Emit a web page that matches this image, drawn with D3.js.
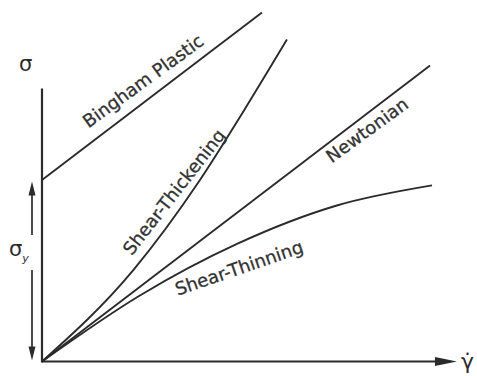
<!DOCTYPE html>
<html>
<head>
<meta charset="utf-8">
<script src="https://cdn.jsdelivr.net/npm/d3@7/dist/d3.min.js"></script>
<style>
  body { margin: 0; background: #fff; }
  svg { display: block; }
</style>
</head>
<body>
<svg id="chart" width="477" height="376"></svg>
<script>
// flow curves: x = shear rate, y = shear stress (arbitrary units)
const binghamPts    = [[0, 6.05], [5.64, 11.63]];
const thickeningPts = [[0, 0], [2.33, 3.03], [4.05, 6.05], [5.18, 8.37], [6.28, 10.73]];
const newtonianPts  = [[0, 0], [9.95, 9.87]];
const thinningPts   = [[0, 0], [2.51, 2.2], [5.0, 3.92], [7.56, 5.2], [10, 5.87]];
const curveNames    = ['Bingham Plastic', 'Shear-Thickening', 'Newtonian', 'Shear-Thinning'];
const yieldStress   = binghamPts[0][1];
const axisEnds      = [10.64, 9.1]; // x arrow tip, y axis top

const ink = '#2b2b2b';
const font = '"DejaVu Sans", sans-serif';

const svg = d3.select('#chart');

const x = d3.scaleLinear().domain([0, 10]).range([42, 432]);
const y = d3.scaleLinear().domain([0, 12]).range([361.5, 1.5]);

const line = d3.line()
    .x(d => x(d[0]))
    .y(d => y(d[1]))
    .curve(d3.curveMonotoneX);

// axes
svg.append('line')
    .attr('x1', x(0)).attr('y1', y(0) + 1)
    .attr('x2', x(0)).attr('y2', y(axisEnds[1]))
    .attr('stroke', ink).attr('stroke-width', 2.2);

svg.append('line')
    .attr('x1', x(0)).attr('y1', y(0))
    .attr('x2', x(axisEnds[0]) - 16).attr('y2', y(0))
    .attr('stroke', ink).attr('stroke-width', 2.2);

// x arrow head
const tipX = x(axisEnds[0]);
svg.append('path')
    .attr('d', `M${tipX},${y(0)} L${tipX - 22},${y(0) - 4.5} L${tipX - 22},${y(0) + 4.5} Z`)
    .attr('fill', ink);

// curves
const series = [binghamPts, thickeningPts, newtonianPts, thinningPts];
svg.append('g')
    .selectAll('path')
    .data(series)
    .enter().append('path')
    .attr('d', line)
    .attr('fill', 'none')
    .attr('stroke', ink)
    .attr('stroke-width', 1.9);

// curve labels
const labelLayout = [
    { cx: 143, cy: 81, rot: -36 },
    { cx: 174, cy: 192, rot: -52 },
    { cx: 367, cy: 130, rot: -36 },
    { cx: 239, cy: 268, rot: -19 }
];

svg.append('g')
    .selectAll('text')
    .data(curveNames)
    .enter().append('text')
    .attr('transform', (d, i) => `translate(${labelLayout[i].cx},${labelLayout[i].cy}) rotate(${labelLayout[i].rot})`)
    .attr('text-anchor', 'middle')
    .attr('dy', '0.35em')
    .attr('font-family', font)
    .attr('font-size', '18px')
    .attr('fill', '#333')
    .attr('stroke', '#333')
    .attr('stroke-width', 0.3)
    .text(d => d);

// yield stress double arrow
const ax = 32;
const yTop = y(yieldStress) + 1.5;
const yBot = y(0) - 1;
svg.append('line')
    .attr('x1', ax).attr('y1', yTop + 12).attr('x2', ax).attr('y2', 235)
    .attr('stroke', ink).attr('stroke-width', 1.7);
svg.append('line')
    .attr('x1', ax).attr('y1', 270).attr('x2', ax).attr('y2', yBot - 12)
    .attr('stroke', ink).attr('stroke-width', 1.7);
svg.append('path')
    .attr('d', `M${ax},${yTop} L${ax - 3.5},${yTop + 14} L${ax + 3.5},${yTop + 14} Z`)
    .attr('fill', ink);
svg.append('path')
    .attr('d', `M${ax},${yBot} L${ax - 3.5},${yBot - 14} L${ax + 3.5},${yBot - 14} Z`)
    .attr('fill', ink);

// axis symbols
svg.append('text')
    .attr('x', 19).attr('y', 71)
    .attr('font-family', font).attr('font-size', '21px')
    .attr('fill', ink)
    .text('σ');

const sy = svg.append('text')
    .attr('x', 9).attr('y', 256)
    .attr('font-family', font).attr('font-size', '21px')
    .attr('fill', ink);
sy.append('tspan').text('σ');
sy.append('tspan')
    .attr('font-size', '11px').attr('font-style', 'italic').attr('dy', 6)
    .text('y');

svg.append('text')
    .attr('x', 461).attr('y', 369)
    .attr('font-family', font).attr('font-size', '22px')
    .attr('fill', ink)
    .text('γ̇');
</script>
</body>
</html>
